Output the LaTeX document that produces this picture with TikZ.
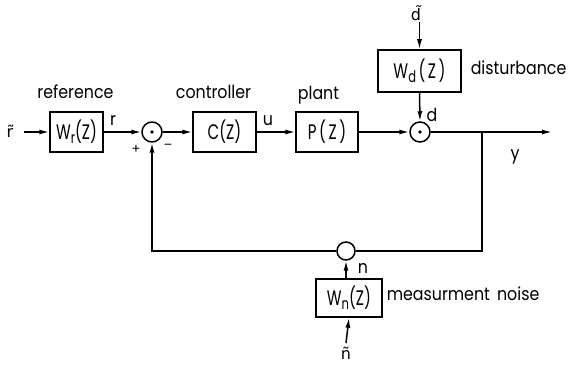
\documentclass[tikz,border=0pt]{standalone}
\usepackage{fontspec}
\usepackage{graphicx}
\setmainfont{Poppins}
\newfontfamily\dv{DejaVu Sans}
\usetikzlibrary{arrows.meta}
\newcommand{\bx}[1]{\scalebox{0.72}[1]{#1}}
\newcommand{\lx}[1]{\scalebox{0.88}[1]{#1}}
\newcommand{\sub}[1]{\raisebox{-0.3ex}{\fontsize{16}{16}\selectfont #1}}
\begin{document}
\begin{tikzpicture}[x=1pt,y=-1pt,
  line width=1.5pt,
  blk/.style={draw,rectangle,inner sep=0pt,font=\fontsize{21}{21}\selectfont},
  sumc/.style={draw,circle,minimum size=20pt,inner sep=0pt},
  lbl/.style={font=\fontsize{18}{18}\selectfont,inner sep=0pt},
  sg/.style={font=\fontsize{13}{13}\selectfont,inner sep=0pt},
  tl/.style={font=\dv\fontsize{16}{16}\selectfont,inner sep=0pt},
  arr/.style={-{Latex[length=10pt,width=5pt]}}]
\useasboundingbox (0,0) rectangle (578,371);
% blocks
\node[blk,minimum width=53pt,minimum height=40pt] (wr) at (76.5,132) {\bx{W\sub{r}(Z)}};
\node[sumc] (s1) at (152,132) {};
\node[blk,minimum width=63pt,minimum height=40pt] (c) at (224.5,132) {\bx{C(Z)}};
\node[blk,minimum width=62pt,minimum height=40pt] (p) at (327,132) {\bx{P\,(\,Z\,)}};
\node[sumc] (s2) at (420,132) {};
\node[blk,minimum width=83pt,minimum height=42pt] (wd) at (419.5,71) {\bx{W\sub{d}\,(\,Z\,)}};
\node[sumc,minimum size=18pt] (s3) at (346,251) {};
\node[blk,minimum width=66pt,minimum height=38pt] (wn) at (349,298) {\bx{W\sub{n}(Z)}};
\fill (s1.center) circle (1.8pt);
\fill (s2.center) circle (1.8pt);
% coordinates
\coordinate (rin) at (24,132);
\coordinate (yout) at (552,132);
\coordinate (br) at (482,132);
\coordinate (brd) at (482,251);
\coordinate (fbl) at (152,251);
\coordinate (din) at (419.5,22);
\coordinate (nin) at (346,343);
% text labels
\node[tl] (rt) at (10,131) {r̃};
\node[lbl] (rlab) at (113,120) {\lx{r}};
\node[sg] (plus) at (136,149) {+};
\node[sg] (minus) at (168,147) {–};
\node[lbl] (ulab) at (268,121) {\lx{u}};
\node[lbl] (dlab) at (432,115) {\lx{d}};
\node[lbl] (ylab) at (515,157) {\lx{y}};
\node[tl] (dt) at (416,13) {d̃};
\node[tl] (nt) at (346,353) {ñ};
\node[lbl] (nlab) at (363,268) {\lx{n}};
\node[lbl,anchor=base] (reft) at (75.5,99) {\lx{reference}};
\node[lbl,anchor=base] (ctlt) at (213.5,99) {\lx{controller}};
\node[lbl,anchor=base] (plt) at (318.5,100) {\lx{plant}};
\node[lbl,anchor=base west] (dist) at (470,75) {\lx{disturbance}};
\node[lbl,anchor=base west] (mn) at (386,301) {\lx{measurment\hspace{0.45em}noise}};
% connectors
\draw[arr] (rin) -- (wr.west);
\draw[arr] (wr.east) -- (s1.west);
\draw[arr] (s1.east) -- (c.west);
\draw[arr] (c.east) -- (p.west);
\draw[arr] (p.east) -- (s2.west);
\draw[arr] (s2.east) -- (yout);
\draw[arr] (din) -- (wd.north);
\draw[arr] (wd.south) -- (s2.north);
\draw (br) -- (brd) -- (s3.east);
\draw[arr] (s3.west) -- (fbl) -- (s1.south);
\draw[arr] (nin) -- (wn.south);
\draw[arr] (wn.north -| s3) -- (s3.south);
\end{tikzpicture}
\end{document}
